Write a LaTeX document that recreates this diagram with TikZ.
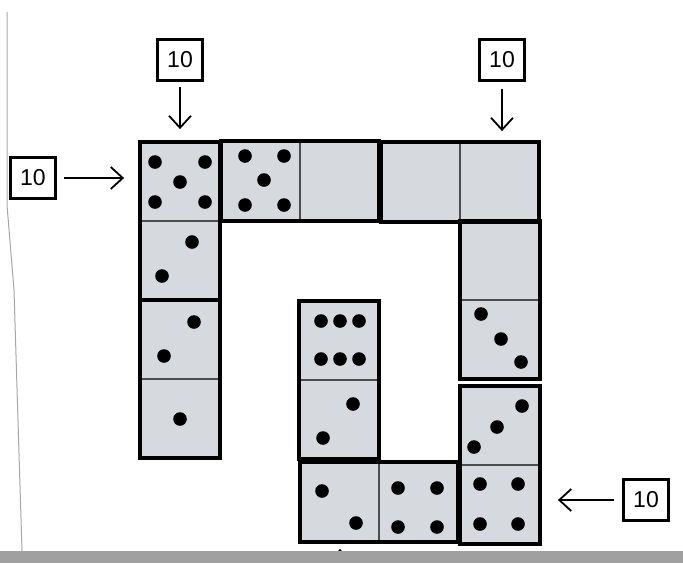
\documentclass[tikz,border=0pt]{standalone}
\usepackage{fontspec}
\setmainfont{Liberation Sans}
\usepackage{tikz}
\usetikzlibrary{positioning, fit, calc, arrows.meta}
\definecolor{cellGray}{RGB}{214,217,222}
\definecolor{barGray}{RGB}{160,160,160}
\tikzset{
  domCell/.style={rectangle, minimum width=39pt, minimum height=39pt, inner sep=0pt, draw=black!70, line width=0.9pt, fill=cellGray},
  domFrame/.style={rectangle, draw=black, line width=2pt, inner sep=0pt},
  domPip/.style={fill=black},
  numBox/.style={rectangle, draw=black, line width=1.3pt, minimum width=22.5pt, minimum height=20.5pt, inner sep=0pt, font=\fontsize{11.5}{13}\selectfont},
  numArr/.style={line width=0.9pt, -{Straight Barb[length=6pt,width=11pt]}},
  scanEdge/.style={draw=black!35, line width=0.5pt},
}

\begin{document}
\begin{tikzpicture}[x=0.5pt, y=-0.5pt]
\useasboundingbox (0,0) rectangle (683,563);
\draw [scanEdge] (7,12) -- (7,205) -- (14,290) -- (22,551);

% domino halves
\node (c1a) [domCell] at (180,182) {};
\node (c1b) [domCell] at (180,260) {};
\node (c2a) [domCell] at (261,181) {};
\node (c2b) [domCell] at (339,181) {};
\node (c3a) [domCell] at (421,182) {};
\node (c3b) [domCell] at (499,182) {};
\node (c4a) [domCell] at (500,261) {};
\node (c4b) [domCell] at (500,339) {};
\node (c5a) [domCell] at (500,426) {};
\node (c5b) [domCell] at (500,504) {};
\node (c6a) [domCell] at (339,341) {};
\node (c6b) [domCell] at (339,419) {};
\node (c7a) [domCell] at (180,340) {};
\node (c7b) [domCell] at (180,418) {};
\node (c8a) [domCell] at (340,502) {};
\node (c8b) [domCell] at (418,502) {};

% frames
\node (d1) [domFrame, fit=(c1a)(c1b)] {};
\node (d2) [domFrame, fit=(c2a)(c2b)] {};
\node (d3) [domFrame, fit=(c3a)(c3b)] {};
\node (d4) [domFrame, fit=(c4a)(c4b)] {};
\node (d5) [domFrame, fit=(c5a)(c5b)] {};
\node (d6) [domFrame, fit=(c6a)(c6b)] {};
\node (d7) [domFrame, fit=(c7a)(c7b)] {};
\node (d8) [domFrame, fit=(c8a)(c8b)] {};

% pips
\foreach \c/\dx/\dy in {c1a/-25/-20, c1a/25/-20, c1a/0/0, c1a/-25/20, c1a/25/20,
                         c2a/-16/-25, c2a/23/-25, c2a/3/-1, c2a/-16/24, c2a/23/24,
                         c1b/12/-18, c1b/-18/16, c7a/14/-18, c7a/-16/16, c7b/0/1,
                         c6a/-18/-20, c6a/1/-20, c6a/20/-20, c6a/-18/18, c6a/1/18, c6a/20/18,
                         c6b/14/-15, c6b/-16/19, c8a/-18/-11, c8a/16/21,
                         c8b/-20/-14, c8b/19/-14, c8b/-20/25, c8b/19/25,
                         c5a/22/-20, c5a/-3/1, c5a/-26/21,
                         c5b/-20/-20, c5b/18/-20, c5b/-20/20, c5b/18/20,
                         c4b/-19/-25, c4b/1/0, c4b/21/23}
  \fill [domPip] ($(\c)+(\dx,\dy)$) circle (3.4pt);

% sums
\node (nTL) [numBox] at (180,60) {10};
\node (nL) [numBox] at (33,178) {10};
\node (nTR) [numBox] at (502,60) {10};
\node (nR) [numBox] at (646,500) {10};
\coordinate (bStub) at (340,562);

\draw [numArr, shorten <=2.5pt, shorten >=5.5pt] (nTL) -- (nTL |- d1.north);
\draw [numArr, shorten <=3.5pt, shorten >=7pt] (nL) -- (nL -| d1.west);
\draw [numArr, shorten <=3.5pt, shorten >=4.5pt] (nTR) -- (nTR |- d3.north);
\draw [numArr, shorten <=4pt, shorten >=8pt] (nR) -- (nR -| d5.east);
\draw [numArr, shorten >=2.5pt] (bStub) -- (bStub |- d8.south);

\fill [barGray] (0,551) rectangle (683,563);
\end{tikzpicture}
\end{document}
